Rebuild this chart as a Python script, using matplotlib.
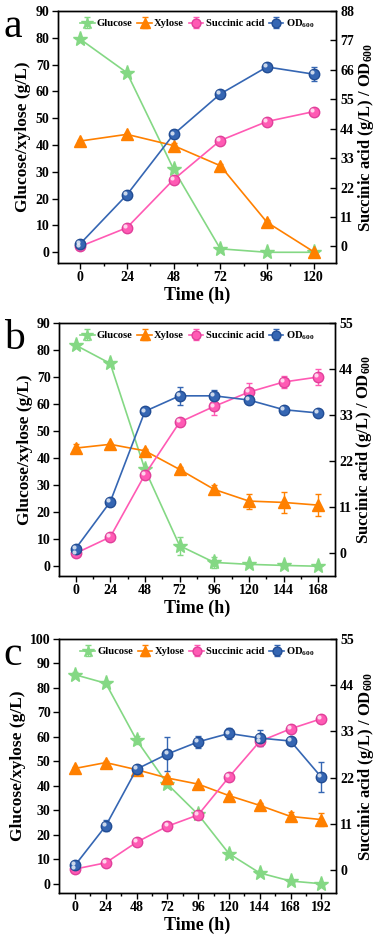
from matplotlib import pyplot as plt
from matplotlib import transforms
import numpy as np

plt.rcParams['font.family'] = ['Liberation Serif', 'DejaVu Serif']
plt.rcParams['font.weight'] = 'bold'
plt.rcParams['mathtext.fontset'] = 'custom'
plt.rcParams['mathtext.rm'] = 'Liberation Serif:bold'
plt.rcParams['mathtext.default'] = 'rm'

# ---- panel a ----
time_a = [0, 24, 48, 72, 96, 120]
glc_a = [79.5, 67.0, 31.0, 1.3, 0.0, 0.0]
xyl_a = [41.5, 44.0, 39.8, 32.3, 11.2, 0.2]
sa_a = [0.0, 7.0, 25.0, 39.6, 46.7, 50.4]
od_a = [1.0, 19.3, 41.9, 57.0, 67.1, 64.4]
glc_a_err = [0.5, 0.5, 0.8, 0.3, 0.2, 0.2]
xyl_a_err = [0.5, 0.5, 0.8, 0.5, 0.8, 0.2]
sa_a_err = [0.3, 0.3, 0.5, 0.5, 0.5, 0.5]
od_a_err = [0.3, 0.3, 1.5, 0.5, 1.5, 2.5]

# ---- panel b ----
time_b = [0, 24, 48, 72, 96, 120, 144, 168]
glc_b = [81.8, 75.0, 35.8, 7.6, 1.4, 0.7, 0.3, 0.0]
xyl_b = [43.7, 45.1, 42.7, 35.8, 28.4, 24.1, 23.6, 22.6]
sa_b = [0.0, 3.9, 18.8, 31.3, 35.1, 38.5, 40.9, 42.1]
od_b = [1.1, 12.3, 33.9, 37.6, 37.6, 36.6, 34.3, 33.5]
glc_b_err = [0.5, 0.5, 0.8, 3.3, 2.0, 0.5, 0.5, 0.3]
xyl_b_err = [1.5, 0.5, 0.8, 0.8, 1.8, 2.8, 4.0, 4.0]
sa_b_err = [0.3, 0.5, 0.5, 0.8, 2.0, 2.2, 1.5, 2.0]
od_b_err = [0.3, 0.5, 0.8, 2.2, 1.5, 0.8, 0.5, 0.5]

# ---- panel c ----
time_c = [0, 24, 48, 72, 96, 120, 144, 168, 192]
glc_c = [85.4, 81.9, 58.7, 40.7, 28.3, 12.3, 4.4, 1.1, 0.0]
xyl_c = [47.1, 49.5, 46.6, 43.2, 40.7, 36.0, 32.0, 27.5, 26.2]
sa_c = [0.2, 1.7, 6.6, 10.4, 13.1, 22.1, 30.6, 33.6, 36.0]
od_c = [1.1, 10.5, 24.0, 27.6, 30.5, 32.5, 31.4, 30.7, 22.1]
glc_c_err = [1.0, 1.0, 1.5, 0.8, 1.0, 0.8, 0.8, 0.5, 0.3]
xyl_c_err = [0.5, 0.5, 0.5, 0.8, 0.5, 0.5, 1.0, 2.0, 2.8]
sa_c_err = [0.3, 0.3, 0.5, 0.5, 0.5, 0.8, 1.0, 1.0, 0.8]
od_c_err = [0.8, 1.3, 0.8, 4.1, 1.5, 1.3, 2.0, 0.8, 3.6]

green = '#84d884'
orange = '#ff8000'
pink = '#ff5ab4'
blue = '#3566b3'

fig = plt.figure(figsize=(3.78, 9.35), dpi=100)

panels = [
    ('a', [0.153, 0.7187, 0.736, 0.2695], time_a, glc_a, xyl_a, sa_a, od_a,
     glc_a_err, xyl_a_err, sa_a_err, od_a_err, (-4, 90), 10, (-6.2, 88), 11, (-11.5, 131.5)),
    ('b', [0.156, 0.384, 0.730, 0.2706], time_b, glc_b, xyl_b, sa_b, od_b,
     glc_b_err, xyl_b_err, sa_b_err, od_b_err, (-3.6, 90), 10, (-5.4, 55), 11, (-11.5, 179.5)),
    ('c', [0.156, 0.0449, 0.733, 0.2717], time_c, glc_c, xyl_c, sa_c, od_c,
     glc_c_err, xyl_c_err, sa_c_err, od_c_err, (-3.8, 100), 10, (-5.5, 55), 11, (-12.5, 203.5)),
]


def ball(ax, x, y):
    # glossy highlight on top of the circle marker
    off = transforms.offset_copy(ax.transData, fig=fig, x=-1.3, y=1.3, units='points')
    ax.plot(x, y, 'o', ms=3, color='white', alpha=0.75, mec='none', transform=off, zorder=6)


for (lab, rect, t, glc, xyl, sa, od, ge, xe, se, oe,
     ylim1, ystep1, ylim2, ystep2, xlim) in panels:
    ax = fig.add_axes(rect)
    ax2 = ax.twinx()

    kw = dict(lw=1.2, capsize=2.5, elinewidth=1.0, capthick=1.0)
    h1 = ax.errorbar(t, glc, yerr=ge, color=green, marker='*', ms=11, mec=green, label='Glucose', **kw)
    h2 = ax.errorbar(t, xyl, yerr=xe, color=orange, marker='^', ms=8.5, mec=orange, label='Xylose', **kw)
    h3 = ax2.errorbar(t, sa, yerr=se, color=pink, marker='o', ms=7.5, mec='#e0409a', label='Succinic acid', **kw)
    h4 = ax2.errorbar(t, od, yerr=oe, color=blue, marker='o', ms=7.5, mec='#224d94', label='OD$_{600}$', **kw)
    ball(ax2, t, sa)
    ball(ax2, t, od)

    ax.set_xlim(*xlim)
    ax.set_ylim(*ylim1)
    ax2.set_ylim(*ylim2)
    ax.set_xticks(t)
    ax.set_xticks(np.array(t[:-1]) + 12, minor=True)
    ax.set_yticks(np.arange(0, ylim1[1] + 0.1, ystep1))
    ax2.set_yticks(np.arange(0, ylim2[1] + 0.1, ystep2))

    ax.tick_params(axis='both', which='major', direction='out', length=4, width=1.0, labelsize=10, pad=2)
    ax.tick_params(axis='x', which='minor', direction='out', length=2.5, width=1.0)
    ax2.tick_params(axis='y', direction='in', length=4, width=1.0, labelsize=10, pad=3)
    for a in (ax, ax2):
        for s in a.spines.values():
            s.set_linewidth(1.0)

    ax.set_xlabel('Time (h)', fontsize=13, fontweight='bold', labelpad=2)
    ax.set_ylabel('Glucose/xylose (g/L)', fontsize=12.5, fontweight='bold', labelpad=3)
    ax2.set_ylabel('Succinic acid (g/L) / OD$_{600}$', fontsize=12, fontweight='bold', labelpad=1)

    ax2.legend(handles=[h1, h2, h3, h4], loc='upper center', ncol=4, frameon=False,
               fontsize=7.6, handlelength=1.4, handletextpad=0.2, columnspacing=0.45,
               borderaxespad=0.2, markerscale=0.85)

    fig.text(0.01, rect[1] + rect[3] + 0.004, lab, fontsize=30, fontweight='normal',
             va='top', ha='left')

plt.savefig('out.png', dpi=100)
